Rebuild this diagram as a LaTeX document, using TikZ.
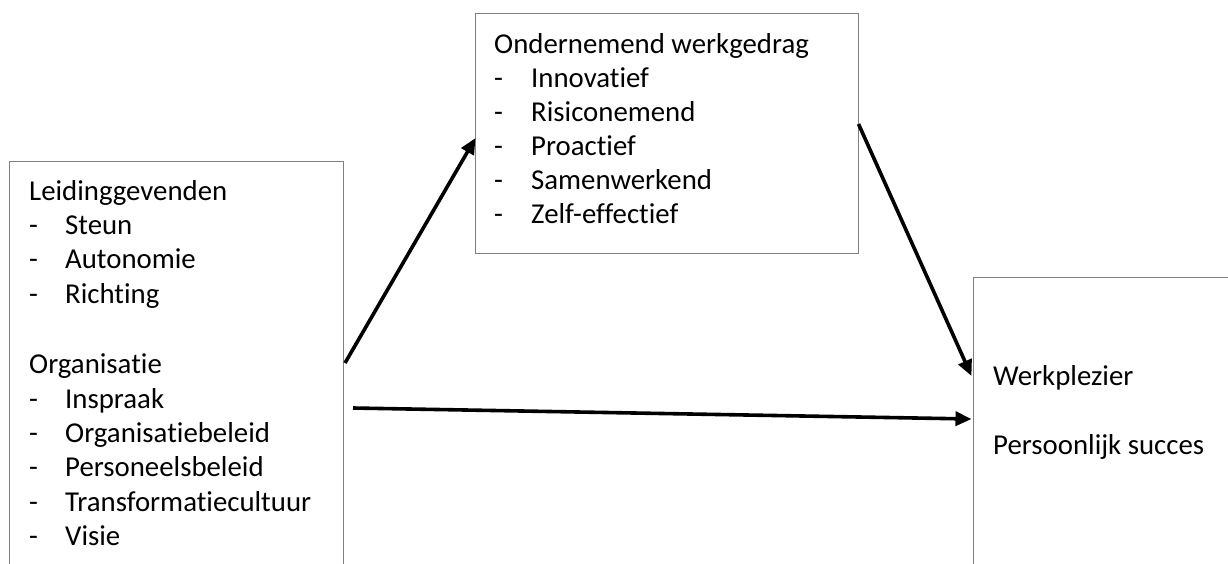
\documentclass[tikz,border=0pt]{standalone}
\usepackage{fontspec}
\setmainfont[Ligatures=NoCommon]{Carlito}
\usetikzlibrary{arrows.meta}
\definecolor{boxgray}{RGB}{128,128,128}
\tikzset{
  box/.style={draw=boxgray,line width=1pt,anchor=north west,inner sep=0pt},
  lbl/.style={anchor=base west,inner sep=0pt,font=\fontsize{28.8}{34}\selectfont},
  arr/.style={line width=3.6pt,-{Triangle[length=16pt,width=14pt]}}
}
\begin{document}
\begin{tikzpicture}[x=1pt,y=-1pt]
\useasboundingbox (0,0) rectangle (1228,563);
\clip (0,0) rectangle (1228,563);
% boxes
\node[box,minimum width=334pt,minimum height=440pt] (lb) at (9,161) {};
\node[box,minimum width=383pt,minimum height=240pt] (tb) at (474.5,13) {};
\node[box,minimum width=300pt,minimum height=330pt] (rb) at (972.5,277) {};
% left box text
\node[lbl] (l1) at (29,200) {Leidinggevenden};
\foreach \y/\t [count=\i] in {234/Steun,268/Autonomie,303/Richting,408/Inspraak,442/Organisatiebeleid,476/Personeelsbeleid,511/Transformatiecultuur,545/Visie}{
  \node[lbl] (ld\i) at (29,\y) {-};
  \node[lbl] (lt\i) at (65,\y) {\t};
}
\node[lbl] (l2) at (29,373) {Organisatie};
% top box text
\node[lbl] (t1) at (494,53) {Ondernemend werkgedrag};
\foreach \y/\t [count=\i] in {87/Innovatief,121/Risiconemend,155/Proactief,189/Samenwerkend,223/Zelf-effectief}{
  \node[lbl] (td\i) at (494,\y) {-};
  \node[lbl] (tt\i) at (531,\y) {\t};
}
% right box text
\node[lbl] (r1) at (993,385) {Werkplezier};
\node[lbl] (r2) at (993,454) {Persoonlijk succes};
% arrows
\draw[arr] ([shift={(1,202)}]lb.north east) -- ([shift={(1,125)}]tb.north west);
\draw[arr] ([shift={(0,111)}]tb.north east) -- ([shift={(-1,99)}]rb.north west);
\draw[arr] ([shift={(9,247)}]lb.north east) -- ([shift={(-1,142)}]rb.north west);
\end{tikzpicture}
\end{document}
